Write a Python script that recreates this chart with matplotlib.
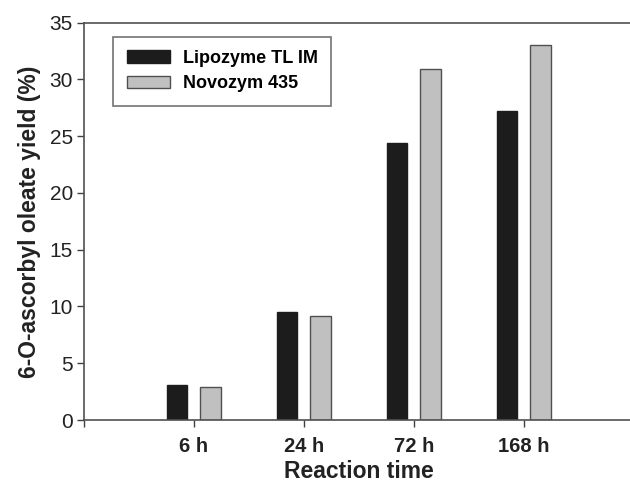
import numpy as np
import matplotlib
import matplotlib.pyplot as plt

matplotlib.rcParams['font.family'] = ['Liberation Sans', 'DejaVu Sans']

# data
categories = ['6 h', '24 h', '72 h', '168 h']
lipozyme = [3.05, 9.5, 24.4, 27.2]
novozym = [2.95, 9.2, 30.9, 33.0]

x = np.arange(1, len(categories) + 1)
w = 0.186
off = 0.152

fig = plt.figure(figsize=(6.3, 4.84), dpi=100)
ax = fig.add_axes([0.1333, 0.1322, 0.873, 0.821])

ax.bar(x - off, lipozyme, w, color='#1c1c1c', edgecolor='#1c1c1c', linewidth=1, label='Lipozyme TL IM')
ax.bar(x + off, novozym, w, color='#c0c0c0', edgecolor='#505050', linewidth=1, label='Novozym 435')

ax.set_xlim(0, 5)
ax.set_ylim(0, 35)
ax.set_yticks(np.arange(0, 36, 5))
ax.set_xticks([0] + list(x))
ax.set_xticklabels([''] + categories, fontweight='bold', fontsize=14.5)
ax.tick_params(axis='y', labelsize=15, length=5, width=1, color='#404040', pad=3, labelcolor='#222222')
ax.tick_params(axis='x', length=5, width=1, color='#404040', pad=7, labelcolor='#222222')

for s in ax.spines.values():
    s.set_color('#505050')
    s.set_linewidth(1.2)
ax.spines['right'].set_visible(False)

ax.set_xlabel('Reaction time', fontsize=16.5, fontweight='bold', labelpad=3, color='#222222')
ax.set_ylabel('6-O-ascorbyl oleate yield (%)', fontsize=16.5, fontweight='bold', labelpad=6, color='#222222')

leg = ax.legend(loc='upper left', bbox_to_anchor=(0.053, 0.965), borderaxespad=0,
                fancybox=False, edgecolor='#505050',
                prop={'weight': 'bold', 'size': 13},
                handlelength=2.4, handleheight=0.7, labelspacing=0.45,
                borderpad=0.75, handletextpad=0.7)
leg.get_frame().set_linewidth(1.2)

plt.savefig('out.png', dpi=100)
